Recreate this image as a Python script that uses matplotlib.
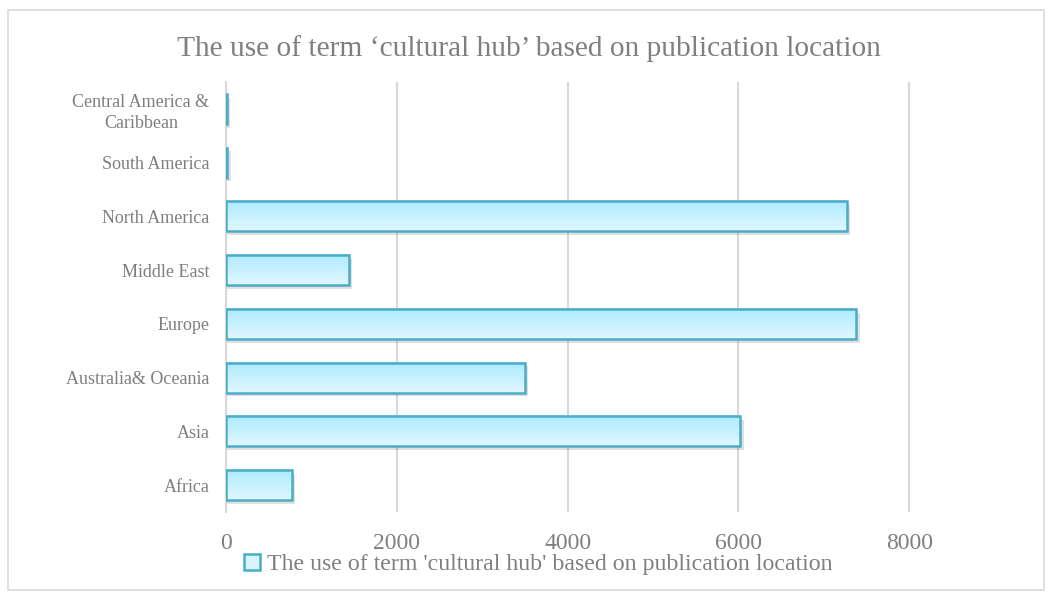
import numpy as np
import matplotlib.pyplot as plt
from matplotlib.patches import Rectangle
from matplotlib.lines import Line2D

# Data (bottom to top)
regions = ["Africa", "Asia", "Australia& Oceania", "Europe",
           "Middle East", "North America", "South America",
           "Central America &\nCaribbean"]
counts = [770, 6020, 3500, 7380, 1440, 7270, 15, 10]
x_ticks = [0, 2000, 4000, 6000, 8000]

title = "The use of term \u2018cultural hub\u2019 based on publication location"
series_name = "The use of term 'cultural hub' based on publication location"

plt.rcParams['font.family'] = ['Liberation Serif', 'DejaVu Serif']

edge_col = "#4bacc6"
text_col = "#7f7f7f"
grid_col = "#d9d9d9"

fig = plt.figure(figsize=(10.48, 5.93), dpi=100)
ax = fig.add_axes([0.2157, 0.1366, 0.717, 0.725])

# chart border
fig.patches.append(Rectangle((8 / 1048, 3 / 593), 1036 / 1048, 580 / 593,
                             transform=fig.transFigure, fill=False,
                             edgecolor=grid_col, linewidth=1.2))

# vertical gradient: light on top, a bit deeper cyan at the bottom
grad = np.linspace(0, 1, 64).reshape(-1, 1)
top = np.array([0.88, 0.97, 1.0])
bot = np.array([0.68, 0.92, 1.0])
grad_img = top + (bot - top) * grad[..., None]

bar_h = 0.56
y_pos = np.arange(len(regions))
for y, v in zip(y_pos, counts):
    # shadow
    ax.add_patch(Rectangle((0, y - bar_h / 2 - 0.07), v + 40, bar_h,
                           facecolor="#000000", alpha=0.12, edgecolor="none",
                           zorder=2))
    ax.imshow(grad_img, extent=(0, v, y + bar_h / 2, y - bar_h / 2),
              aspect="auto", zorder=3, interpolation="bilinear")
    ax.add_patch(Rectangle((0, y - bar_h / 2), v, bar_h, facecolor="none",
                           edgecolor=edge_col, linewidth=1.8, zorder=4))

ax.set_xlim(0, 8800)
ax.set_ylim(-0.5, len(regions) - 0.5)
ax.set_xticks(x_ticks)
ax.set_xticklabels([str(t) for t in x_ticks])
ax.set_yticks(y_pos)
ax.set_yticklabels(regions, linespacing=1.35, multialignment="center")
ax.tick_params(axis="x", length=0, labelsize=17, colors=text_col, pad=15)
ax.tick_params(axis="y", length=0, labelsize=13, colors=text_col, pad=12)
for lab in ax.get_yticklabels():
    lab.set_horizontalalignment("right")

ax.grid(axis="x", color=grid_col, linewidth=1.5, zorder=0)
ax.set_axisbelow(True)
for s in ["top", "right", "bottom"]:
    ax.spines[s].set_visible(False)
ax.spines["left"].set_color(grid_col)
ax.spines["left"].set_linewidth(1.5)

fig.text(0.505, 0.918, title, ha="center", va="center", fontsize=21.2,
         color=text_col)

handle = Line2D([], [], marker="s", linestyle="none", markersize=11,
                markerfacecolor="#d8f4fc", markeredgecolor=edge_col,
                markeredgewidth=1.8)
fig.legend([handle], [series_name], loc="center", bbox_to_anchor=(0.513, 0.048),
           frameon=False, fontsize=17.2, labelcolor=text_col, handletextpad=0.2,
           handlelength=0.8)

fig.savefig("out.png", dpi=100)
